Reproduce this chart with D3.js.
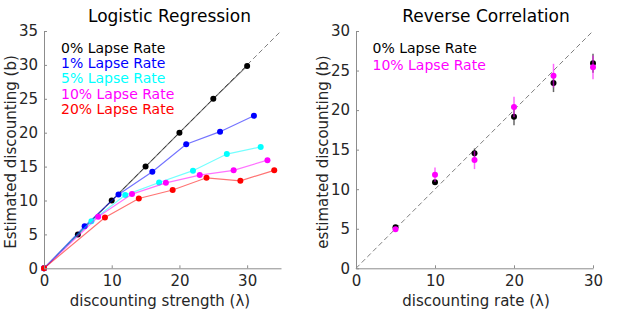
<!DOCTYPE html>
<html><head><meta charset="utf-8">
<script src="https://cdn.jsdelivr.net/npm/d3@7"></script>
<style>
body{margin:0;background:#fff;}
svg{display:block;font-family:"DejaVu Sans",sans-serif;}
</style></head>
<body><svg id="c" width="623" height="312"></svg>
<script>
// Left panel: Logistic Regression
const lapseLabels = ["0% Lapse Rate","1% Lapse Rate","5% Lapse Rate","10% Lapse Rate","20% Lapse Rate"];
const lapseColors = ["#000000","#0000ff","#00ffff","#ff00ff","#ff0000"];
const lr0x = [0,5,10,15,20,25,30];
const lr0y = [0,5,10,15,20,25,29.85];
const lr1x = [0,6,11,16,21,26,31];
const lr1y = [0,6.2,10.9,14.25,18.3,20.15,22.5];
const lr5x = [0,7,12,17,22,27,32];
const lr5y = [0,6.95,10.8,12.65,14.4,16.85,17.9];
const lr10x = [0,8,13,18,23,28,33];
const lr10y = [0,7.6,10.95,12.6,13.75,14.45,15.95];
const lr20x = [0,9,14,19,24,29,34];
const lr20y = [0,7.5,10.3,11.55,13.35,12.9,14.45];
const leftXTicks = [0,10,20,30];
const leftYTicks = [0,5,10,15,20,25,30,35];

// Right panel: Reverse Correlation
const rcLabels = ["0% Lapse Rate","10% Lapse Rate"];
const rcColors = ["#000000","#ff00ff"];
const rcX = [5,10,15,20,25,30];
const rc0y = [5.18,10.87,14.55,19.17,23.43,25.92];
const rc0err = [0.3,0.3,0.6,1.1,1.15,1.2];
const rc10y = [4.93,11.84,13.69,20.39,24.35,25.41];
const rc10err = [0.3,0.9,1.15,1.3,1.5,1.5];
const rightXTicks = [0,10,20,30];
const rightYTicks = [0,5,10,15,20,25,30];

const svg = d3.select("#c");
const axisCol = "#8c8c8c", textCol = "#262626";

function drawAxes(g, x, y, xt, yt){
  const xa = g.append("g").attr("transform",`translate(0,${y.range()[0]})`)
    .call(d3.axisBottom(x).tickValues(xt).tickSizeInner(-3).tickSizeOuter(0).tickPadding(7));
  const ya = g.append("g").attr("transform",`translate(${x.range()[0]},0)`)
    .call(d3.axisLeft(y).tickValues(yt).tickSizeInner(-3).tickSizeOuter(0).tickPadding(6));
  [xa,ya].forEach(a=>{
    a.select(".domain").attr("stroke",axisCol);
    a.selectAll(".tick line").attr("stroke",axisCol);
    a.selectAll(".tick text").attr("fill",textCol).style("font-size","15px").style("font-family","DejaVu Sans");
  });
}

// ---- Left
const xL = d3.scaleLinear().domain([0,35]).range([44,281]);
const yL = d3.scaleLinear().domain([0,35]).range([268.3,31]);
const gL = svg.append("g");
gL.append("line").attr("x1",xL(0)).attr("y1",yL(0)).attr("x2",xL(35)).attr("y2",yL(35))
  .attr("stroke","#808080").attr("stroke-width",1).attr("stroke-dasharray","5,3");
const seriesL = [[lr0x,lr0y],[lr1x,lr1y],[lr5x,lr5y],[lr10x,lr10y],[lr20x,lr20y]];
const line = d3.line();
seriesL.forEach((s,i)=>{
  const pts = s[0].map((v,j)=>[xL(v),yL(s[1][j])]);
  gL.append("path").attr("d",line(pts)).attr("fill","none")
    .attr("stroke",lapseColors[i]).attr("stroke-opacity",0.55).attr("stroke-width",1.2);
  gL.selectAll(null).data(pts).enter().append("circle")
    .attr("cx",d=>d[0]).attr("cy",d=>d[1]).attr("r",3).attr("fill",lapseColors[i]);
});
drawAxes(gL,xL,yL,leftXTicks,leftYTicks);
gL.selectAll(null).data(lapseLabels).enter().append("text")
  .attr("x",61).attr("y",(d,i)=>52.7+i*15.3).attr("fill",(d,i)=>lapseColors[i])
  .style("font-size","14px").text(d=>d);
svg.append("text").attr("x",169.5).attr("y",21.7).attr("text-anchor","middle")
  .attr("fill","#000").style("font-size","17px").text("Logistic Regression");
svg.append("text").attr("x",160).attr("y",306).attr("text-anchor","middle")
  .attr("fill",textCol).style("font-size","15px").text("discounting strength (λ)");
svg.append("text").attr("transform","translate(15.5,152) rotate(-90)").attr("text-anchor","middle")
  .attr("fill",textCol).style("font-size","15px").text("Estimated discounting (b)");

// ---- Right
const xR = d3.scaleLinear().domain([0,30]).range([356,593]);
const yR = d3.scaleLinear().domain([0,30]).range([268.3,31]);
const gR = svg.append("g");
gR.append("line").attr("x1",xR(0)).attr("y1",yR(0)).attr("x2",xR(30)).attr("y2",yR(30))
  .attr("stroke","#808080").attr("stroke-width",1).attr("stroke-dasharray","5,3");
[[rc0y,rc0err],[rc10y,rc10err]].forEach((s,i)=>{
  const pts = rcX.map((v,j)=>({x:xR(v),y:yR(s[0][j]),lo:yR(s[0][j]-s[1][j]),hi:yR(s[0][j]+s[1][j])}));
  gR.selectAll(null).data(pts).enter().append("line")
    .attr("x1",d=>d.x).attr("x2",d=>d.x).attr("y1",d=>d.lo).attr("y2",d=>d.hi)
    .attr("stroke",rcColors[i]).attr("stroke-opacity",0.6).attr("stroke-width",1.5);
  gR.selectAll(null).data(pts).enter().append("circle")
    .attr("cx",d=>d.x).attr("cy",d=>d.y).attr("r",3).attr("fill",rcColors[i]);
});
drawAxes(gR,xR,yR,rightXTicks,rightYTicks);
gR.selectAll(null).data(rcLabels).enter().append("text")
  .attr("x",372.5).attr("y",(d,i)=>53.3+i*16.5).attr("fill",(d,i)=>rcColors[i])
  .style("font-size","14px").text(d=>d);
svg.append("text").attr("x",486).attr("y",21.5).attr("text-anchor","middle")
  .attr("fill","#000").style("font-size","17px").text("Reverse Correlation");
svg.append("text").attr("x",476).attr("y",306).attr("text-anchor","middle")
  .attr("fill",textCol).style("font-size","15px").text("discounting rate (λ)");
svg.append("text").attr("transform","translate(328,152) rotate(-90)").attr("text-anchor","middle")
  .attr("fill",textCol).style("font-size","15px").text("estimated discounting (b)");
</script></body></html>
